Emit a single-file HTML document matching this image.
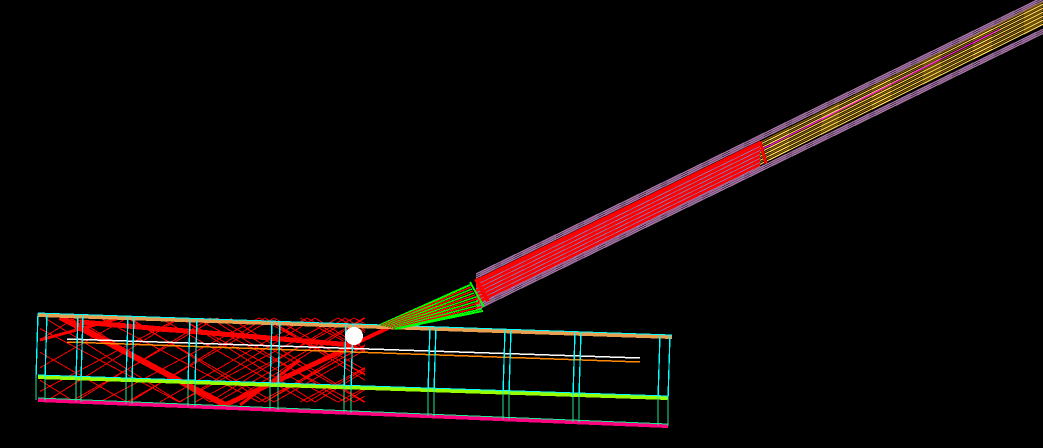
<!DOCTYPE html>
<html><head><meta charset="utf-8"><style>
html,body{margin:0;padding:0;background:#000;width:1043px;height:448px;overflow:hidden}
svg{display:block}
</style></head><body>
<svg id="scene" width="1043" height="448" viewBox="0 0 1043 448" xmlns="http://www.w3.org/2000/svg" shape-rendering="crispEdges">
<rect width="1043" height="448" fill="#000"/>
<g id="rays" stroke="#ff0000" fill="none"></g>
<g id="slab" fill="none"></g>
<g id="tube" fill="none"></g>
<circle cx="354" cy="336" r="9" fill="#fff"/>
</svg>
<script>
const NS='http://www.w3.org/2000/svg';
function ln(g,x1,y1,x2,y2,c,w,name){
  const l=document.createElementNS(NS,'line');
  l.setAttribute('x1',x1);l.setAttribute('y1',y1);l.setAttribute('x2',x2);l.setAttribute('y2',y2);
  l.setAttribute('stroke',c);l.setAttribute('stroke-width',w);
  
  
  g.appendChild(l);
}
const slab=document.getElementById('slab');
const tube=document.getElementById('tube');
const rays=document.getElementById('rays');
// thin bouncing rays
const starts=[-60,-20,20,45,70,100,130,160,195,230,265,300];
starts.forEach((s,i)=>{
  [1,-1].forEach(d=>{
    let x=s,y=d>0?318:402,dir=d;
    for(let k=0;k<5;k++){
      const nx=x+135+(i%3)*12;
      const ny=dir>0?402:318;
      let x1=x,y1=y,x2=nx,y2=ny;
      if(x2>40&&x1<365){
        if(x1<40){y1=y1+(y2-y1)*(40-x1)/(x2-x1);x1=40;}
        if(x2>365){y2=y1+(y2-y1)*(365-x1)/(x2-x1);x2=365;}
        ln(rays,x1,y1,x2,y2,'#ff0000',1,'thin-ray');
      }
      x=nx;y=ny;dir=-dir;
    }
  });
});
// thick bands
ln(rays,60,317,225,405,'#ff0000',6,'ray-band-1');
ln(rays,225,405,355,345,'#ff0000',5,'ray-band-2');
ln(rays,80,322,352,345,'#ff0000',5,'ray-band-3');
ln(rays,352,345,390,327,'#ff0000',4,'ray-band-entry');
ln(rays,150,330,360,344,'#ff0000',2,'ray-band-4');
ln(rays,40,340,120,318,'#ff0000',3,'ray-band-5');
ln(rays,240,405,300,360,'#ff0000',3,'ray-band-6');
// slab edges
ln(slab,38,400,668,426,'#ff0080',4,'slab-bottom-edge');
ln(slab,38,398,668,424,'#20e890',1,'slab-bottom-edge-line');
ln(slab,38,377,668,398,'#99ff00',4,'slab-mid-band');
ln(slab,38,375,668,396,'#00ffff',1,'slab-mid-edge');
ln(slab,38,315,672,337,'#e8a050',4,'slab-top-edge');
ln(slab,38,313,672,335,'#00ffff',1,'slab-top-line');
ln(slab,67,339,640,358,'#ffffff',1.5,'white-guide-line');
ln(slab,67,342,640,362,'#ff8800',1.5,'orange-guide-line');
const vx=[38,47,78,83,128,134,190,197,272,280,346,353,430,436,505,511,575,581,660,670];
vx.forEach((x,i)=>{
  const t=(x-38)/630;
  ln(slab,x,313+22*t,x-2,378+21*t,'#00ffff',1.3,'slab-vertical-'+i);
  ln(slab,x-2,378+21*t,x-2,400+26*t,'#20e890',1.3,'slab-vertical-lower-'+i);
});
// tube
const m=0.488;
function base(x){return 277-m*(x-476);}
[-3,-1,1,29,31,33].forEach((o,i)=>ln(tube,476,base(476)+o,1043,base(1043)+o,'#a070a0',1.5,'tube-outer-'+i));
for(let o=3;o<=28;o+=1) ln(tube,476,base(476)+o,760,base(760)+o,'#ff0000',1.2,'tube-red-core');
for(let o=8;o<=28;o+=4) ln(tube,476,base(476)+o,760,base(760)+o,'#8080c0',0.8,'tube-red-stripe');
for(let o=4;o<=27;o+=2) ln(tube,760,base(760)+o,1043,base(1043)+o-2,(o%4?'#ffd050':'#806000'),1.2,'tube-yellow-core');
ln(tube,760,base(760)+12,1000,base(1000)+8,'#ff00ff',1,'tube-magenta-line');
ln(tube,476,base(476)+2,488,base(488)+30,'#ff0000',4,'tube-red-end');
ln(tube,760,base(760)+3,766,base(766)+28,'#ff0000',3,'tube-red-start');
// green section
for(let o=0;o<=26;o+=2){
  const c=(o===0||o===26)?'#00ff00':(o%4?'#ff0000':'#00ff00');
  ln(tube,380+o*0.6,325+o*0.15,470+o*0.5,base(470)+5+o,c,(o===0||o===26)?2:1.5,'green-section-line');
}
ln(tube,470,282,484,307,'#00ff00',2,'green-section-end');
</script>
</body></html>
